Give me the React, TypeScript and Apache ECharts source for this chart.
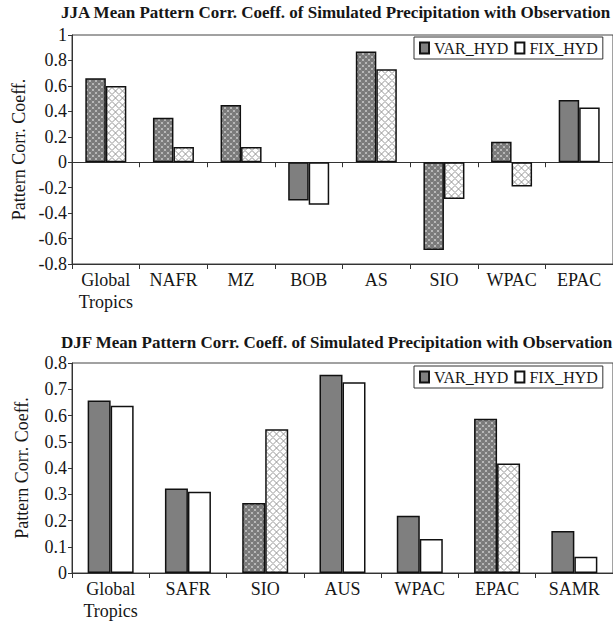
import React, { useEffect, useRef } from "react";
import * as echarts from "echarts";

// JJA (June–August) regions and correlation coefficients
const jjaCategories = ["Global\nTropics", "NAFR", "MZ", "BOB", "AS", "SIO", "WPAC", "EPAC"];
const jjaVar = [0.66, 0.35, 0.45, -0.3, 0.87, -0.69, 0.16, 0.49];
const jjaFix = [0.6, 0.12, 0.12, -0.335, 0.73, -0.29, -0.19, 0.43];
// hatched bars mark the highlighted (patterned) regions
const jjaHatched = [true, true, true, false, true, true, true, false];

// DJF (December–February) regions and correlation coefficients
const djfCategories = ["Global\nTropics", "SAFR", "SIO", "AUS", "WPAC", "EPAC", "SAMR"];
const djfVar = [0.657, 0.322, 0.267, 0.755, 0.218, 0.588, 0.16];
const djfFix = [0.637, 0.31, 0.548, 0.727, 0.13, 0.417, 0.062];
const djfHatched = [false, false, true, false, false, true, false];

const jjaTicks = { min: -0.8, max: 1, interval: 0.2 };
const djfTicks = { min: 0, max: 0.8, interval: 0.1 };

const seriesNames = ["VAR_HYD", "FIX_HYD"];
const jjaTitle = "JJA Mean Pattern Corr. Coeff. of Simulated Precipitation with Observation";
const djfTitle = "DJF Mean Pattern Corr. Coeff. of Simulated Precipitation with Observation";
const yName = "Pattern Corr. Coeff.";

const FONT = "Liberation Serif";
const INK = "#161616";
const VAR_SOLID = "#7f7f7f";
const FIX_SOLID = "#ffffff";

function darkTile() {
  const s = 6;
  const c = document.createElement("canvas");
  c.width = s;
  c.height = s;
  const ctx = c.getContext("2d")!;
  ctx.fillStyle = "#c4c4c4";
  ctx.fillRect(0, 0, s, s);
  ctx.fillStyle = "#7a7a7a";
  const dot = (cx: number, cy: number, r: number) => {
    ctx.beginPath();
    ctx.arc(cx, cy, r, 0, Math.PI * 2);
    ctx.fill();
  };
  const r = 2.2;
  dot(3, 3, r);
  dot(0, 0, r);
  dot(s, 0, r);
  dot(0, s, r);
  dot(s, s, r);
  return { image: c.toDataURL(), imageWidth: s, imageHeight: s, repeat: "repeat" };
}

function lightTile() {
  const s = 7;
  const c = document.createElement("canvas");
  c.width = s;
  c.height = s;
  const ctx = c.getContext("2d")!;
  ctx.fillStyle = "#ffffff";
  ctx.fillRect(0, 0, s, s);
  ctx.strokeStyle = "#959595";
  ctx.lineWidth = 1;
  ctx.beginPath();
  ctx.moveTo(0, s / 2);
  ctx.lineTo(s / 2, 0);
  ctx.lineTo(s, s / 2);
  ctx.lineTo(s / 2, s);
  ctx.closePath();
  ctx.stroke();
  return { image: c.toDataURL(), imageWidth: s, imageHeight: s, repeat: "repeat" };
}

const fmt = (v: number) => String(+v.toFixed(1));

export default function App() {
  const ref = useRef<HTMLDivElement>(null);

  useEffect(() => {
    if (!ref.current) return;
    const chart = echarts.init(ref.current, null, { renderer: "svg" });
    const varHatch = darkTile();
    const fixHatch = lightTile();

    const grids = [
      { left: 72, right: -5, top: 35, height: 229 },
      { left: 72, right: -5, top: 363, height: 210 },
    ];

    const barItems = (vals: number[], hatched: boolean[], pattern: any, solid: string) =>
      vals.map((v, i) => ({ value: v, itemStyle: { color: hatched[i] ? pattern : solid } }));

    const labelStyle = {
      fontFamily: FONT,
      fontSize: 18,
      color: INK,
    };

    const categoryAxis = (grid: number, data: string[], pos: "bottom" | "top", decorative: boolean) => ({
      type: "category",
      gridIndex: grid,
      data,
      position: pos,
      axisLine: { show: true, onZero: decorative, lineStyle: { color: "#333", width: 1 } },
      axisTick: { show: true, length: 5, inside: pos === "top", lineStyle: { color: "#333" } },
      axisLabel: decorative
        ? { show: false }
        : { ...labelStyle, margin: 5, lineHeight: 22, interval: 0 },
      splitLine: { show: false },
    });

    const valueAxis = (grid: number, t: { min: number; max: number; interval: number }) => ({
      type: "value",
      gridIndex: grid,
      min: t.min,
      max: t.max,
      interval: t.interval,
      name: yName,
      nameLocation: "middle",
      nameGap: 41,
      nameTextStyle: { fontFamily: FONT, fontSize: 18, color: INK },
      axisLine: { show: true, lineStyle: { color: "#333", width: 1 } },
      axisTick: { show: true, length: 4, lineStyle: { color: "#333" } },
      axisLabel: { ...labelStyle, margin: 5, formatter: fmt },
      splitLine: { show: false },
    });

    const seriesBase = {
      type: "bar",
      barGap: "0%",
      itemStyle: { borderColor: "#111", borderWidth: 1.5 },
    };

    const legendBase = {
      orient: "horizontal",
      width: 300,
      icon: "rect",
      itemWidth: 9,
      itemHeight: 11,
      itemGap: 6,
      padding: [3, 5, 3, 5],
      backgroundColor: "#fff",
      borderColor: "#333",
      borderWidth: 1,
      selectedMode: false,
      textStyle: { fontFamily: FONT, fontSize: 16, color: INK },
      data: seriesNames,
    };

    const titleStyle = { fontFamily: FONT, fontSize: 17, fontWeight: "bold", color: INK, lineHeight: 17 };

    chart.setOption({
      animation: false,
      backgroundColor: "#fff",
      title: [
        { text: jjaTitle, left: 61, top: 4, padding: 0, textStyle: titleStyle },
        { text: djfTitle, left: 61, top: 334, padding: 0, textStyle: titleStyle },
      ],
      legend: [
        { ...legendBase, left: 414, top: 37 },
        { ...legendBase, left: 414, top: 366 },
      ],
      grid: grids.map((g) => ({ ...g, show: true, borderColor: "#444", borderWidth: 1, backgroundColor: "transparent" })),
      xAxis: [
        categoryAxis(0, jjaCategories, "bottom", false),
        categoryAxis(0, jjaCategories, "top", true),
        categoryAxis(1, djfCategories, "bottom", false),
      ],
      yAxis: [valueAxis(0, jjaTicks), valueAxis(1, djfTicks)],
      series: [
        {
          ...seriesBase,
          name: seriesNames[0],
          xAxisIndex: 0,
          yAxisIndex: 0,
          barWidth: 20.5,
          itemStyle: { ...seriesBase.itemStyle, color: VAR_SOLID },
          data: barItems(jjaVar, jjaHatched, varHatch, VAR_SOLID),
        },
        {
          ...seriesBase,
          name: seriesNames[1],
          xAxisIndex: 0,
          yAxisIndex: 0,
          barWidth: 20.5,
          itemStyle: { ...seriesBase.itemStyle, color: FIX_SOLID },
          data: barItems(jjaFix, jjaHatched, fixHatch, FIX_SOLID),
        },
        {
          ...seriesBase,
          name: seriesNames[0],
          xAxisIndex: 2,
          yAxisIndex: 1,
          barWidth: 23,
          itemStyle: { ...seriesBase.itemStyle, color: VAR_SOLID },
          data: barItems(djfVar, djfHatched, varHatch, VAR_SOLID),
        },
        {
          ...seriesBase,
          name: seriesNames[1],
          xAxisIndex: 2,
          yAxisIndex: 1,
          barWidth: 23,
          itemStyle: { ...seriesBase.itemStyle, color: FIX_SOLID },
          data: barItems(djfFix, djfHatched, fixHatch, FIX_SOLID),
        },
      ],
    });

    return () => chart.dispose();
  }, []);

  return (
    <div
      ref={ref}
      style={{ position: "absolute", left: 0, top: 0, width: 613, height: 624, background: "#fff" }}
    />
  );
}
